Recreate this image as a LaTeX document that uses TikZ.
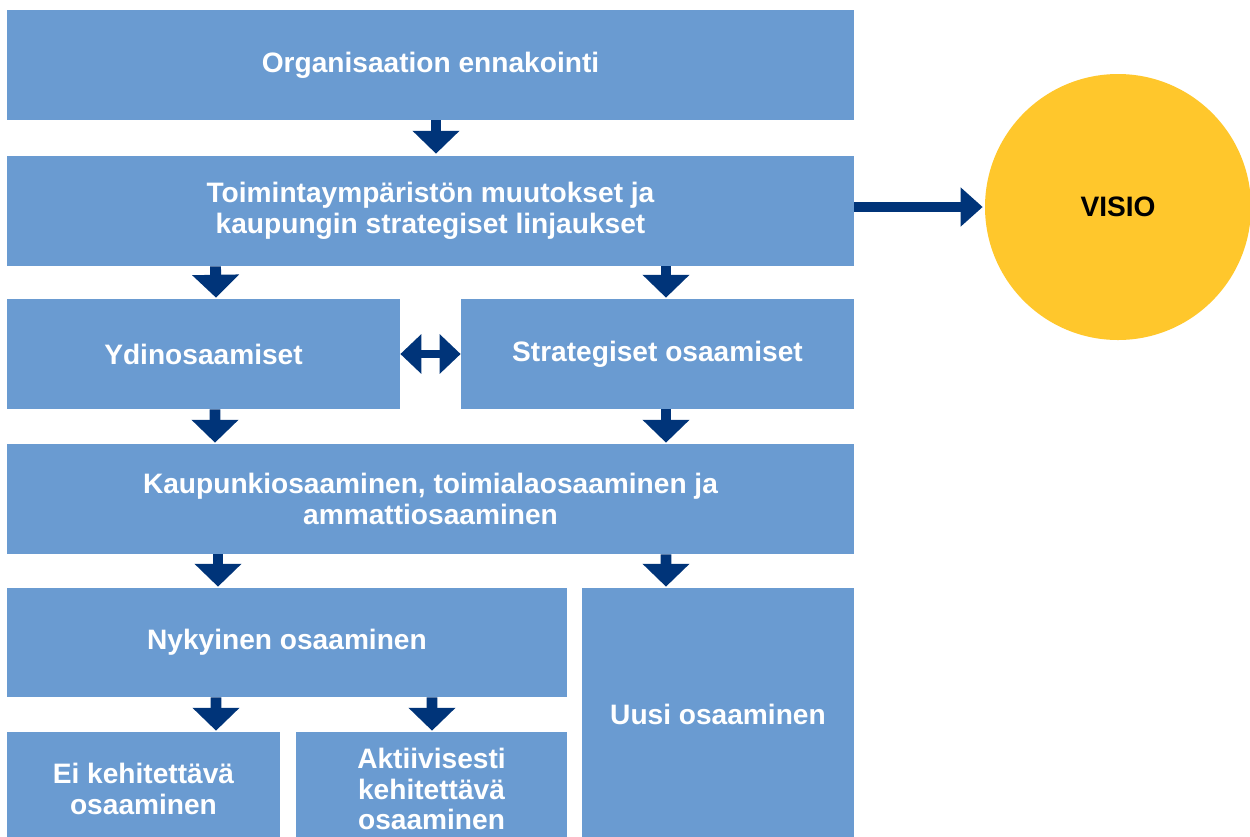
\documentclass[tikz,border=0pt]{standalone}
\usepackage{fontspec}
\setmainfont{Liberation Sans}
\usetikzlibrary{arrows.meta,calc}
\definecolor{boxblue}{HTML}{6A9BD1}
\definecolor{navy}{HTML}{003479}
\definecolor{visioyellow}{HTML}{FFC72C}
\newcommand{\pxu}{0.02cm}
\tikzset{
  box/.style={fill=boxblue, draw=none, inner sep=0pt, text=white, align=center,
    font=\bfseries\fontsize{16}{17.6}\selectfont},
  darr/.style={navy, line width=6.2pt, -{Triangle[width=26pt,length=13pt]}},
  harr/.style={navy, line width=5.2pt, -{Triangle[width=21.5pt,length=12.5pt]}},
  dblarr/.style={navy, line width=4.8pt, {Triangle[width=22pt,length=12pt]}-{Triangle[width=22pt,length=12pt]}},
}
\begin{document}
\begin{tikzpicture}[x=0.02cm, y=-0.02cm]
\clip (0,0) rectangle (1250,836);
\fill[white] (0,0) rectangle (1250,836);

\node[box, minimum width=847*\pxu, minimum height=110*\pxu] (A) at (430.5,65) {Organisaation ennakointi};
\node[box, minimum width=847*\pxu, minimum height=110*\pxu] (B) at (430.5,211) {Toimintaympäristön muutokset ja\\kaupungin strategiset linjaukset};
\node[box, minimum width=393*\pxu, minimum height=110*\pxu] (C) at (203.5,354) {Ydinosaamiset};
\node[box, minimum width=393*\pxu, minimum height=110*\pxu] (D) at (657.5,354) {Strategiset osaamiset};
\node[box, minimum width=847*\pxu, minimum height=110*\pxu] (E) at (430.5,499) {Kaupunkiosaaminen, toimialaosaaminen ja\\ammattiosaaminen};
\node[box, minimum width=560*\pxu, minimum height=109*\pxu] (F) at (287,642.5) {Nykyinen osaaminen};
\node[box, minimum width=272*\pxu, minimum height=252*\pxu] (G) at (718,714) {Uusi osaaminen};
\node[box, minimum width=273*\pxu, minimum height=114*\pxu] (H) at (143.5,789) {Ei kehitettävä\\osaaminen};
\node[box, minimum width=271*\pxu, minimum height=114*\pxu] (I) at (431.5,789) {Aktiivisesti\\kehitettävä\\osaaminen};
\node[circle, fill=visioyellow, draw=none, minimum size=266*\pxu, inner sep=0pt,
  font=\bfseries\fontsize{16}{17.6}\selectfont] (V) at (1118,207) {VISIO};

\draw[darr] ($(A.south)+(5.5,0)$) -- ($(B.north)+(5.5,-2)$);
\draw[darr] ($(B.south)+(-215,0)$) -- ($(C.north)+(12.5,-1)$);
\draw[darr] ($(B.south)+(235.5,0)$) -- ($(D.north)+(8.5,-1)$);
\draw[darr] ($(C.south)+(11.5,0)$) -- ($(E.north)+(-215.5,-1)$);
\draw[darr] ($(D.south)+(8.5,0)$) -- ($(E.north)+(235.5,-1)$);
\draw[darr] ($(E.south)+(-212.5,0)$) -- ($(F.north)+(-69,-1)$);
\draw[darr] ($(E.south)+(235.5,0)$) -- ($(G.north)+(-52,-1)$);
\draw[darr] ($(F.south)+(-71,0)$) -- ($(H.north)+(72.5,-1)$);
\draw[darr] ($(F.south)+(145,0)$) -- ($(I.north)+(0.5,-1)$);
\draw[harr] (B.east |- V.west) -- ($(V.west)+(-2,0)$);
\draw[dblarr] (C.east) -- (D.west);
\end{tikzpicture}
\end{document}
